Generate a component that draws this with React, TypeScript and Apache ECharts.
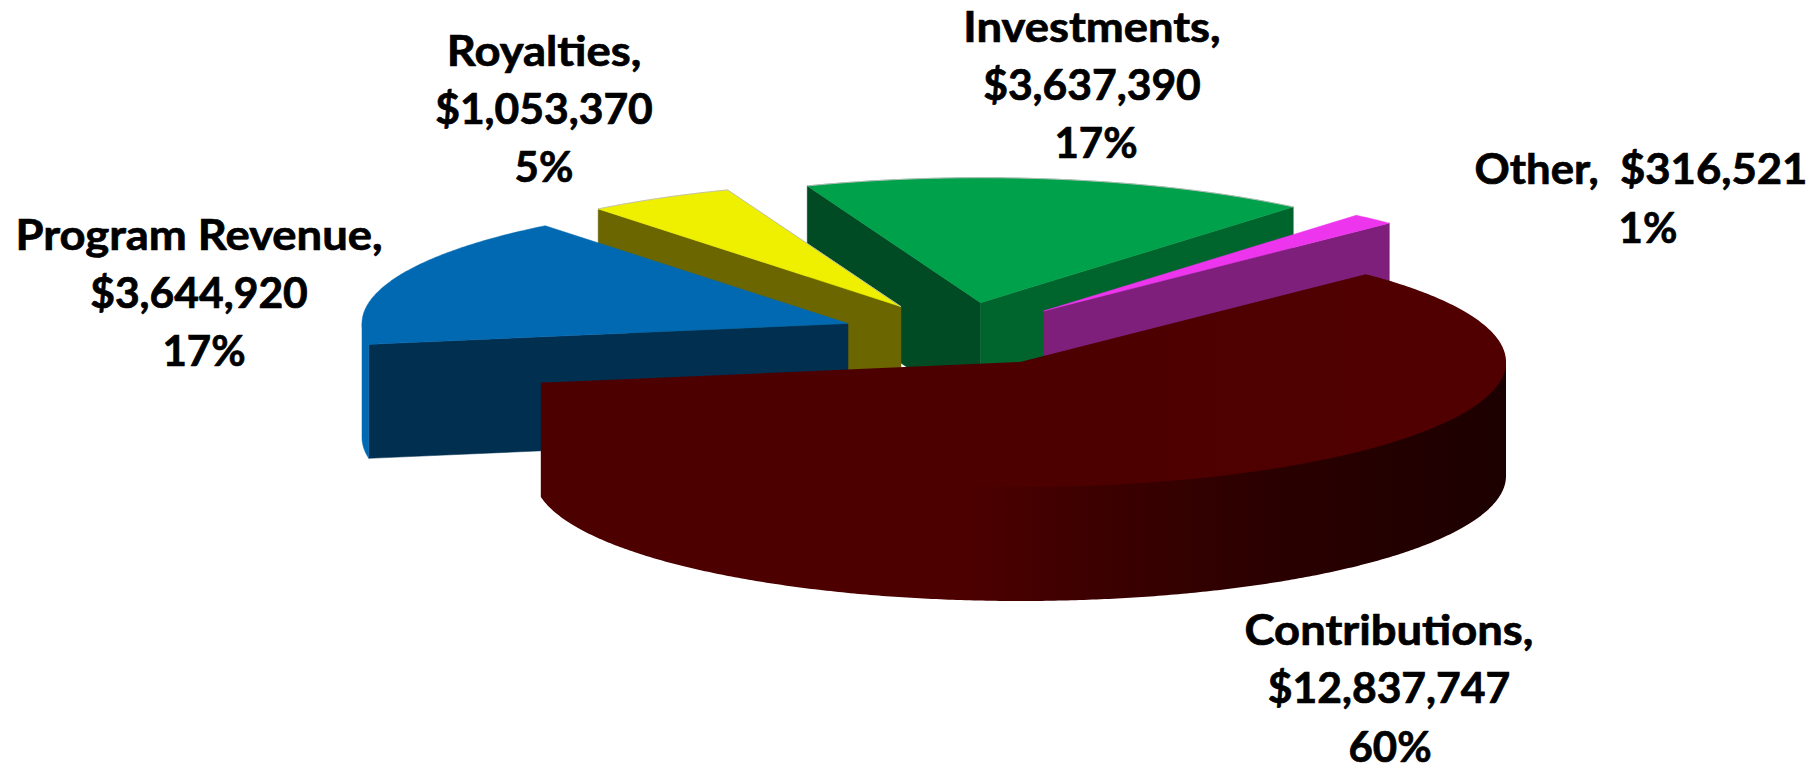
import React, { useEffect, useRef } from "react";
import * as echarts from "echarts";

// ---- data (clockwise, starting from the left of the pie)
const categories = ["Program Revenue", "Royalties", "Investments", "Other", "Contributions"];
const values = [3644920, 1053370, 3637390, 316521, 12837747];
const percents = ["17%", "5%", "17%", "1%", "60%"];

// ---- geometry of the tilted pie
const RX = 486;
const RY = 125;
const DEPTH = 114;
const START_DEG = -9.6;
const apexes = [[848, 323.5], [901, 306.7], [980.6, 302.7], [1043.6, 311], [1020, 362]];
const drawRank = [3, 2, 1, 4, 5];
const contributionsTop = {
  type: "linear", x: 540, y: 0, x2: 1510, y2: 0, global: true,
  colorStops: [
    { offset: 0, color: "#4C0000" },
    { offset: 0.44, color: "#4C0000" },
    { offset: 1, color: "#510000" },
  ],
};
const topColors: any[] = ["#0069B1", "#EFEF00", "#00A14B", "#EE35EE", contributionsTop];
const startWallColors = ["#002F50", "#6B6600", "#004B23", "#7D1F7B", "#3a0000"];
const endWallColors = ["#002F50", "#6B6600", "#00642D", "#7D1F7B", "#3a0000"];
const outerWallColors: any[] = [
  "#0069B1", "#6B6600", "#00642D", "#7D1F7B",
  {
    type: "linear", x: 540, y: 0, x2: 1510, y2: 0, global: true,
    colorStops: [
      { offset: 0, color: "#4C0000" },
      { offset: 0.44, color: "#4C0000" },
      { offset: 0.58, color: "#3C0000" },
      { offset: 0.76, color: "#2A0000" },
      { offset: 1, color: "#1C0000" },
    ],
  },
];
// thin pale rim on the far edges of two slices
const rimColors = [null, "#BDBDBD", "#BDBDBD", null, null];

// ---- labels: centre x, top y of the text block
const labelX = [199, 544, 1092, 1641, 1389];
const percentX = [204, 544, 1096, 1648, 1390];
const labelY = [211.25, 27.25, 3.25, 146.25, 606.5];
const FONT_SIZE = 42;
const NAME_STRETCH = 1.08;
const NUMBER_STRETCH = 1.015;
const PERCENT_STRETCH = 1;
const SINGLE_LINE_STRETCH = 1.04;
const LINE_PITCH = 58.5;
const LINE_BOX = 44;

const fmt = (v: number) => "$" + v.toLocaleString("en-US");

const total = values.reduce((a, b) => a + b, 0);

function textLine(text: string, x: number, y: number, stretch: number) {
  return {
    type: "text",
    z2: 100,
    x,
    y,
    scaleX: stretch,
    silent: true,
    style: {
      text,
      fill: "#000000",
      stroke: "#000000",
      lineWidth: 0.7,
      fontFamily: "Lato",
      fontWeight: "bold",
      fontSize: FONT_SIZE,
      lineHeight: LINE_BOX,
      align: "center",
      verticalAlign: "top",
    },
  };
}

function labelLines(i: number) {
  const y = labelY[i];
  if (categories[i] === "Other") {
    return [
      textLine(`${categories[i]},  ${fmt(values[i])}`, labelX[i], y, SINGLE_LINE_STRETCH),
      textLine(percents[i], percentX[i], y + LINE_PITCH, PERCENT_STRETCH),
    ];
  }
  return [
    textLine(`${categories[i]},`, labelX[i], y, NAME_STRETCH),
    textLine(fmt(values[i]), labelX[i], y + LINE_PITCH, NUMBER_STRETCH),
    textLine(percents[i], percentX[i], y + 2 * LINE_PITCH, PERCENT_STRETCH),
  ];
}

function renderItem(params: any, api: any) {
  const i = params.dataIndex;
  const value = api.value(1);
  let before = 0;
  for (let k = 0; k < i; k++) before += values[k];
  const a0 = START_DEG + (before / total) * 360;
  const a1 = a0 + (value / total) * 360;
  const [cx, cy] = apexes[i];
  const pt = (deg: number, dy = 0, k = 1) => {
    const r = (deg * Math.PI) / 180;
    return [cx - k * RX * Math.cos(r), cy - k * RY * Math.sin(r) + dy];
  };
  const arc = (from: number, to: number, dy = 0, scale = 1) => {
    const out: number[][] = [];
    const n = Math.max(2, Math.ceil(Math.abs(to - from) * 2));
    for (let k = 0; k <= n; k++) out.push(pt(from + ((to - from) * k) / n, dy, scale));
    return out;
  };
  const z = drawRank[i] * 10;
  const poly = (points: number[][], fill: any, z2: number) => ({
    type: "polygon",
    z2,
    shape: { points },
    style:
      typeof fill === "string"
        ? { fill, stroke: fill, lineWidth: 0.5 }
        : { fill, stroke: "none", lineWidth: 0 },
    silent: true,
  });
  const children: any[] = [];
  const cos0 = Math.cos((a0 * Math.PI) / 180);
  const cos1 = Math.cos((a1 * Math.PI) / 180);
  // flat walls along the two radii, only where they face the viewer
  if (cos0 > 0) {
    children.push(poly([[cx, cy], pt(a0), pt(a0, DEPTH), [cx, cy + DEPTH]], startWallColors[i], z));
  }
  if (cos1 < 0) {
    children.push(poly([[cx, cy], pt(a1), pt(a1, DEPTH), [cx, cy + DEPTH]], endWallColors[i], z));
  }
  // the curved wall, front half only; its upper edge runs a little under the top face
  const ranges = [[-90, 0], [180, 360]];
  for (const [lo, hi] of ranges) {
    const from = Math.max(a0, lo);
    const to = Math.min(a1, hi);
    if (to > from) {
      const inner = arc(from, to, 0, 0.98);
      const bottom = arc(to, from, DEPTH);
      children.push(
        poly([pt(from), ...inner, pt(to), ...bottom], outerWallColors[i], z + 1)
      );
    }
  }
  // top face
  children.push(poly([[cx, cy], ...arc(a0, a1)], topColors[i], z + 2));
  if (rimColors[i]) {
    const rim = arc(a0, a1);
    if (cos1 > 0) rim.push([cx, cy]);
    children.push({
      type: "polyline",
      z2: z + 3,
      silent: true,
      shape: { points: rim },
      style: { fill: "none", stroke: rimColors[i], lineWidth: 0.9 },
    });
  }
  children.push(...labelLines(i));
  return { type: "group", children };
}

export default function App() {
  const ref = useRef<HTMLDivElement>(null);
  useEffect(() => {
    document.body.style.margin = "0";
    document.body.style.background = "#ffffff";
    const chart = echarts.init(ref.current!, undefined, { renderer: "svg" });
    chart.setOption({
      animation: false,
      backgroundColor: "#ffffff",
      series: [
        {
          type: "custom",
          coordinateSystem: "none",
          renderItem,
          silent: true,
          data: categories.map((name, i) => ({ name, value: [i, values[i]] })),
        },
      ],
    });
    return () => chart.dispose();
  }, []);
  return <div ref={ref} style={{ width: 1813, height: 770 }} />;
}
